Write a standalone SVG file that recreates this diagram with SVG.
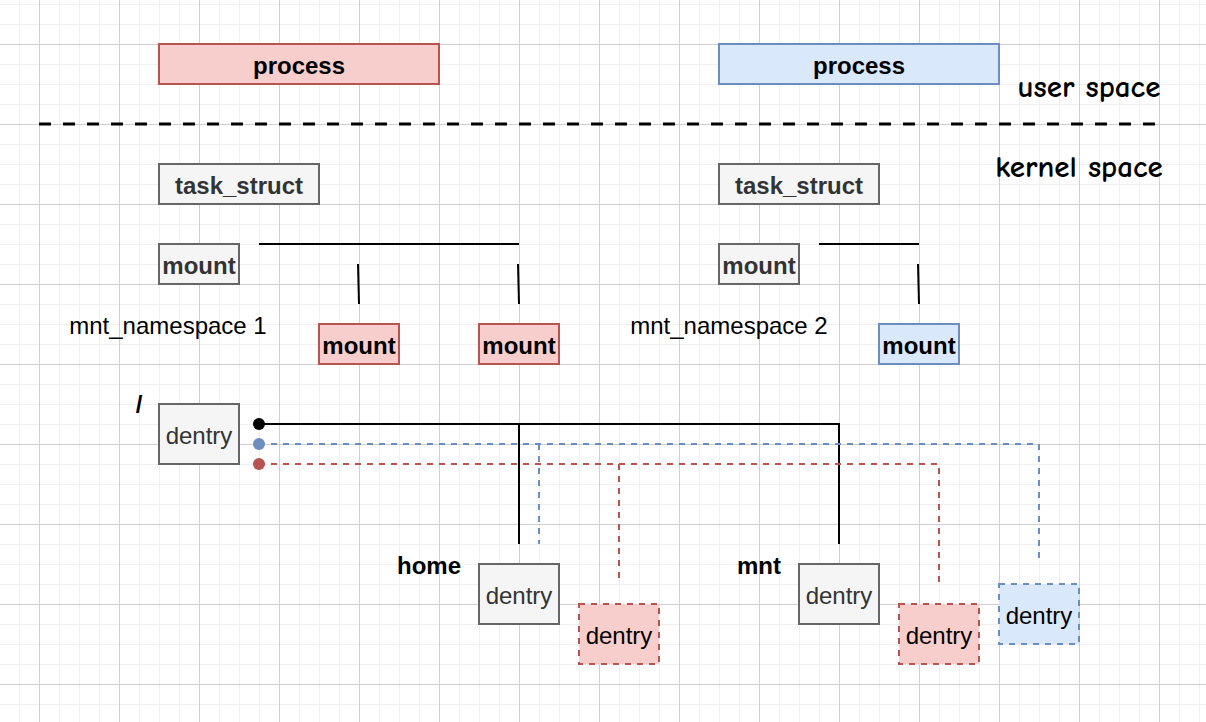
<svg xmlns="http://www.w3.org/2000/svg" width="1206" height="722" viewBox="0 0 1206 722">
<defs>
<pattern id="minor" width="20" height="20" patternUnits="userSpaceOnUse" x="-1" y="4">
<path d="M0 0H20M0 0V20" fill="none" stroke="#f0f0f0" stroke-width="2"/>
</pattern>
<pattern id="major" width="80" height="80" patternUnits="userSpaceOnUse" x="39" y="44">
<path d="M0 0.5H80M0.5 0V80" fill="none" stroke="#d0d0d0" stroke-width="1"/>
</pattern>
</defs>
<style>
.t{font-family:"Liberation Sans",Arial,sans-serif;font-size:24px;text-anchor:middle;dominant-baseline:central}
.b{font-weight:bold}
.gray{fill:#f5f5f5;stroke:#666666;stroke-width:2}
.red{fill:#f8cecc;stroke:#b85450;stroke-width:2}
.blue{fill:#dae8fc;stroke:#6c8ebf;stroke-width:2}
.dash{stroke-dasharray:6 6}
.hand{font-family:"Comic Sans MS","Comic Neue",cursive;font-size:31px;font-weight:bold;fill:#000}
</style>
<rect width="1206" height="722" fill="#ffffff"/>
<rect width="1206" height="722" fill="url(#minor)"/>
<rect width="1206" height="722" fill="url(#major)"/>

<line x1="39" y1="124" x2="1159" y2="124" stroke="#000" stroke-width="3" stroke-dasharray="12 12"/>
<text class="hand" x="1089" y="87" text-anchor="middle" dominant-baseline="central">user space</text>
<text class="hand" x="1079" y="167" text-anchor="middle" dominant-baseline="central">kernel space</text>

<g id="connectors" fill="none">
<path d="M259 244H519" stroke="#000" stroke-width="2"/>
<path d="M358 264L359 304" stroke="#000" stroke-width="2"/>
<path d="M518 264L519 304" stroke="#000" stroke-width="2"/>
<path d="M819 244H919" stroke="#000" stroke-width="2"/>
<path d="M918 264L919 304" stroke="#000" stroke-width="2"/>
<path d="M259 424H839V544" stroke="#000" stroke-width="2"/>
<path d="M519 424V544" stroke="#000" stroke-width="2"/>
<path d="M259 444H1039V564" stroke="#6c8ebf" stroke-width="2" class="dash"/>
<path d="M539 444V544" stroke="#6c8ebf" stroke-width="2" class="dash"/>
<path d="M259 464H939V584" stroke="#b85450" stroke-width="2" class="dash"/>
<path d="M619 464V584" stroke="#b85450" stroke-width="2" class="dash"/>
<circle cx="259" cy="424" r="6" fill="#000"/>
<circle cx="259" cy="444" r="6" fill="#6c8ebf"/>
<circle cx="259" cy="464" r="6" fill="#b85450"/>
</g>

<g id="process1"><rect class="red" x="159" y="44" width="280" height="40"/><text class="t b" x="299" y="65">process</text></g>
<g id="process2"><rect class="blue" x="719" y="44" width="280" height="40"/><text class="t b" x="859" y="65">process</text></g>

<g id="task1"><rect class="gray" x="159" y="164" width="160" height="40"/><text class="t b" x="239" y="185" fill="#333">task_struct</text></g>
<g id="task2"><rect class="gray" x="719" y="164" width="160" height="40"/><text class="t b" x="799" y="185" fill="#333">task_struct</text></g>

<g id="mount1"><rect class="gray" x="159" y="244" width="80" height="40"/><text class="t b" x="199" y="265" fill="#333">mount</text></g>
<g id="mount2"><rect class="gray" x="719" y="244" width="80" height="40"/><text class="t b" x="759" y="265" fill="#333">mount</text></g>

<g id="ns1"><text class="t" x="168" y="325">mnt_namespace 1</text></g>
<g id="ns2"><text class="t" x="729" y="325">mnt_namespace 2</text></g>

<g id="mountR1"><rect class="red" x="319" y="324" width="80" height="40"/><text class="t b" x="359" y="345">mount</text></g>
<g id="mountR2"><rect class="red" x="479" y="324" width="80" height="40"/><text class="t b" x="519" y="345">mount</text></g>
<g id="mountB"><rect class="blue" x="879" y="324" width="80" height="40"/><text class="t b" x="919" y="345">mount</text></g>

<g id="rootLabel"><text class="t b" x="139" y="404">/</text></g>
<g id="rootDentry"><rect class="gray" x="159" y="404" width="80" height="60"/><text class="t" x="199" y="435" fill="#333">dentry</text></g>

<g id="homeLabel"><text class="t b" x="429" y="565">home</text></g>
<g id="homeDentry"><rect class="gray" x="479" y="564" width="80" height="60"/><text class="t" x="519" y="595" fill="#333">dentry</text></g>
<g id="homeRed"><rect class="red dash" x="579" y="604" width="80" height="60"/><text class="t" x="619" y="635">dentry</text></g>

<g id="mntLabel"><text class="t b" x="759" y="565">mnt</text></g>
<g id="mntDentry"><rect class="gray" x="799" y="564" width="80" height="60"/><text class="t" x="839" y="595" fill="#333">dentry</text></g>
<g id="mntRed"><rect class="red dash" x="899" y="604" width="80" height="60"/><text class="t" x="939" y="635">dentry</text></g>
<g id="mntBlue"><rect class="blue dash" x="999" y="584" width="80" height="60"/><text class="t" x="1039" y="615">dentry</text></g>
</svg>
